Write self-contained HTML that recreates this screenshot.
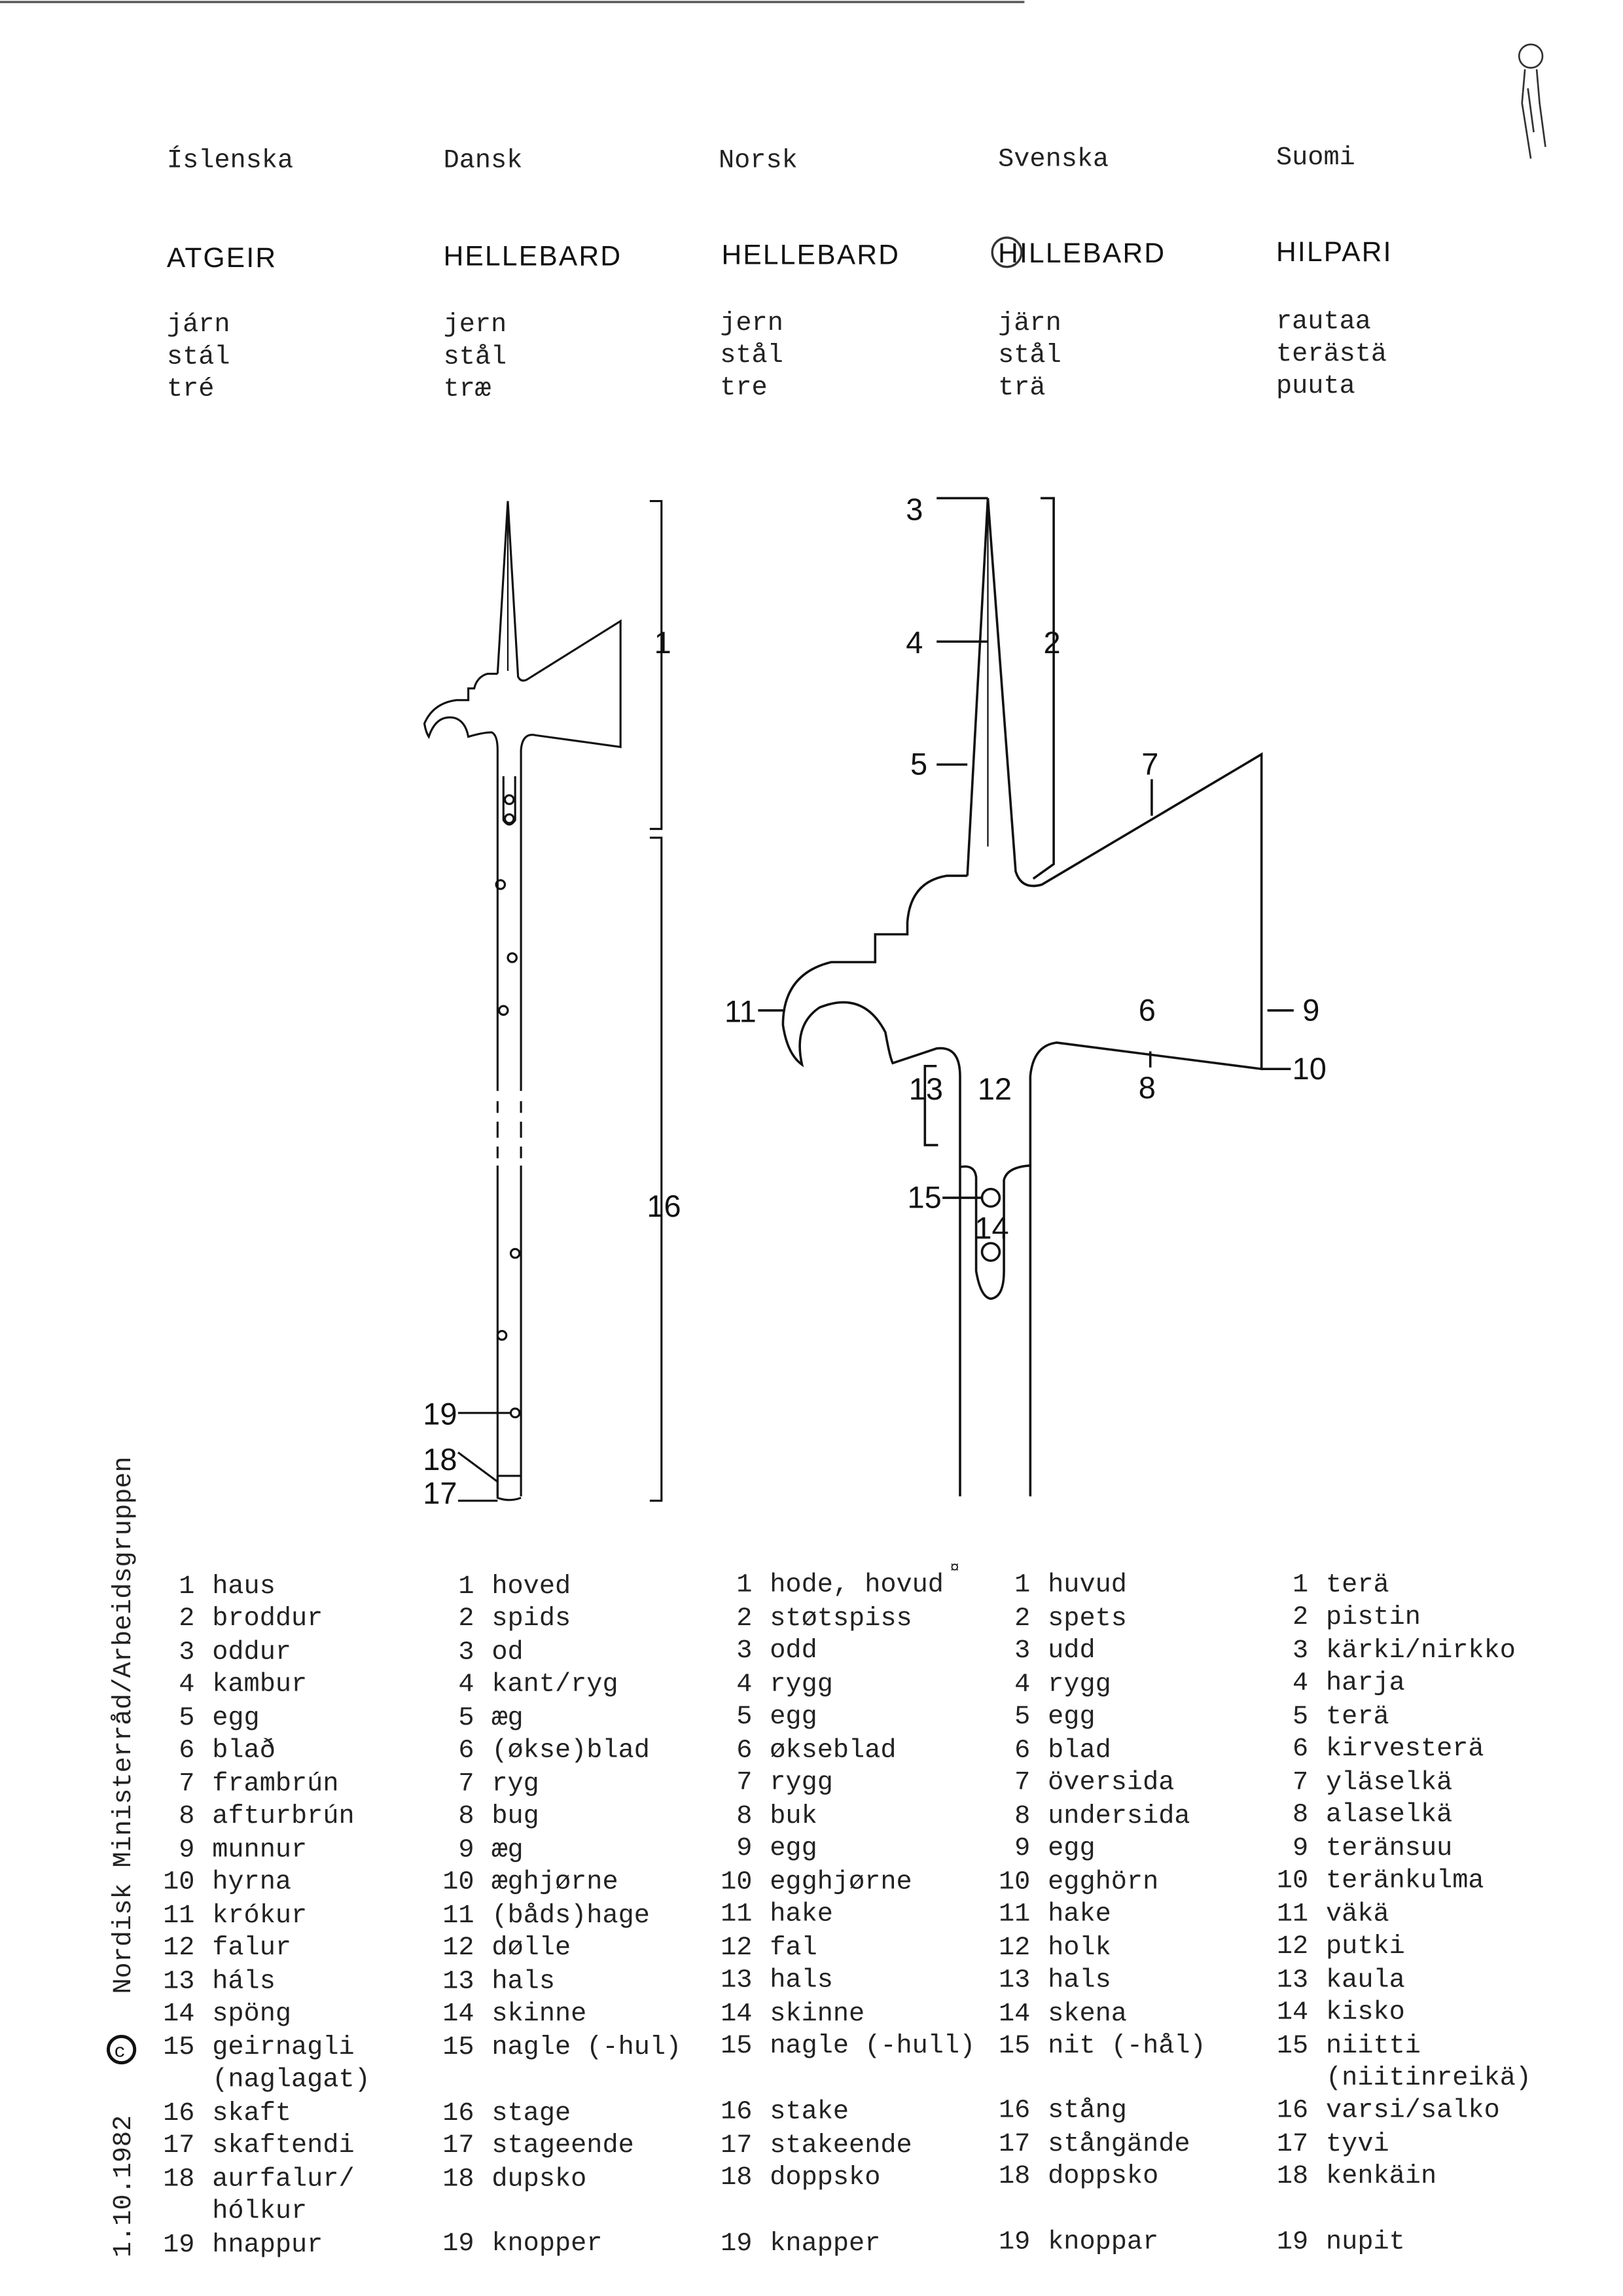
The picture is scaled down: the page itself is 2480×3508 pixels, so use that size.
<!DOCTYPE html>
<html><head><meta charset="utf-8"><style>
html,body{margin:0;padding:0;background:#fff}
svg{display:block}
.m{font-family:"Liberation Mono",monospace;font-size:18px;fill:#222}
.h{font-family:"Liberation Sans",sans-serif;font-size:19px;fill:#111;letter-spacing:1px}
.n{font-family:"Liberation Sans",sans-serif;font-size:21px;fill:#111}
</style></head><body>
<svg width="2480" height="3508" viewBox="0 0 1109 1568" xmlns="http://www.w3.org/2000/svg">
<rect width="1109" height="1568" fill="#fff"/>
<line x1="0" y1="1" x2="700" y2="1" stroke="#555" stroke-width="1.5"/>
<!-- figure -->
<g fill="none" stroke="#333" stroke-width="1.2">
<circle cx="1046" cy="38" r="8"/><path d="M1042 47 L1040 70 L1046 108 M1050 47 L1052 70 L1056 100 M1044 60 L1048 90"/>
</g>
<!-- headers -->
<g class="m">
<text x="114" y="114">Íslenska</text><text x="303" y="114">Dansk</text><text x="491" y="114">Norsk</text><text x="682" y="113">Svenska</text><text x="872" y="112">Suomi</text>
<text x="114" y="226">járn</text><text x="114" y="248">stál</text><text x="114" y="270">tré</text>
<text x="303" y="226">jern</text><text x="303" y="248">stål</text><text x="303" y="270">træ</text>
<text x="492" y="225">jern</text><text x="492" y="247">stål</text><text x="492" y="269">tre</text>
<text x="682" y="225">järn</text><text x="682" y="247">stål</text><text x="682" y="269">trä</text>
<text x="872" y="224">rautaa</text><text x="872" y="246">terästä</text><text x="872" y="268">puuta</text>
</g>
<g class="h">
<text x="114" y="182">ATGEIR</text><text x="303" y="181">HELLEBARD</text><text x="493" y="180">HELLEBARD</text><text x="682" y="179">HILLEBARD</text><text x="872" y="178">HILPARI</text>
</g>
<circle cx="688" cy="172" r="10" fill="none" stroke="#333" stroke-width="1.5"/>
<!-- small axe -->
<g fill="none" stroke="#111" stroke-width="1.4">
<path d="M340 460 L347 342 L354 462 Q356 466 360 464 L424 424 L424 510 L366 502 Q357 500 356 512 L356 1022"/>
<line x1="347" y1="352" x2="347" y2="458" stroke-width="1"/>
<path d="M340 460 L333 460 Q326 462 324 470 L320 470 L320 478 L312 478 Q296 480 290 494 Q291 500 293 503 Q298 488 310 490 Q318 492 320 503 Q330 500 336 500 Q340 502 340 512 L340 1022"/>
<path d="M344 530 L344 560 Q348 566 352 560 L352 530"/>
<circle cx="348" cy="546" r="3"/><circle cx="348" cy="559" r="3"/>
<circle cx="342" cy="604" r="3"/><circle cx="350" cy="654" r="3"/><circle cx="344" cy="690" r="3"/><circle cx="352" cy="856" r="3"/><circle cx="343" cy="912" r="3"/><circle cx="352" cy="965" r="3"/>
<path d="M340 1008 L356 1008 M340 1008 L340 1023 Q348 1026 356 1023"/>
<path d="M444 342 L452 342 L452 566 L444 566 M444 572 L452 572 L452 1025 L444 1025"/>
<path d="M313 965 L349 965 M313 992 L340 1012 M313 1025 L340 1025"/>
</g>
<rect x="336" y="745" width="24" height="7" fill="#fff"/><rect x="336" y="760" width="24" height="6" fill="#fff"/><rect x="336" y="777" width="24" height="6" fill="#fff"/><rect x="336" y="791" width="24" height="5" fill="#fff"/>
<!-- large axe -->
<g fill="none" stroke="#111" stroke-width="1.6">
<path d="M661 598 L675 340 L694 595 Q698 608 712 604 L862 515 L862 730 L722 712 Q706 714 704 735 L704 1022"/>
<line x1="675" y1="350" x2="675" y2="578" stroke-width="1"/>
<path d="M661 598 L647 598 Q622 602 620 630 L620 638 L598 638 L598 657 L568 657 Q535 665 535 700 Q538 720 548 727 Q542 700 560 688 Q590 676 605 705 Q608 722 610 726 L640 716 Q656 714 656 735 L656 1022"/>
<path d="M656 797 Q666 795 667 804 L667 868 Q670 886 677 887 Q686 886 686 868 L686 806 Q688 797 704 796"/>
<circle cx="677" cy="818" r="6"/><circle cx="677" cy="855" r="6"/>
<path d="M640 340 L675 340 M640 438 L675 438 M640 522 L661 522 M711 340 L720 340 L720 590 L706 600 M787 532 L787 557 M866 690 L884 690 M862 730 L882 730 M786 729 L786 718 M518 690 L536 690 M640 728 L632 728 L632 782 L641 782 M644 818 L671 818"/>
</g>
<g class="n">
<text x="619" y="355">3</text><text x="619" y="446">4</text><text x="622" y="529">5</text><text x="713" y="446">2</text><text x="780" y="529">7</text><text x="778" y="697">6</text><text x="890" y="697">9</text><text x="883" y="737">10</text><text x="778" y="750">8</text><text x="495" y="698">11</text><text x="621" y="751">13</text><text x="668" y="751">12</text><text x="620" y="825">15</text><text x="666" y="846">14</text>
<text x="447" y="446" >1</text><text x="442" y="831">16</text><text x="289" y="973">19</text><text x="289" y="1004">18</text><text x="289" y="1027">17</text>
</g>
<!-- legend -->
<g class="m" text-anchor="end">
<text x="133" y="1088">1</text><text x="133" y="1110">2</text><text x="133" y="1133">3</text><text x="133" y="1155">4</text><text x="133" y="1178">5</text><text x="133" y="1200">6</text><text x="133" y="1223">7</text><text x="133" y="1245">8</text><text x="133" y="1268">9</text><text x="133" y="1290">10</text><text x="133" y="1313">11</text><text x="133" y="1335">12</text><text x="133" y="1358">13</text><text x="133" y="1380">14</text><text x="133" y="1403">15</text><text x="133" y="1448">16</text><text x="133" y="1470">17</text><text x="133" y="1493">18</text><text x="133" y="1538">19</text>
<text x="324" y="1088">1</text><text x="324" y="1110">2</text><text x="324" y="1133">3</text><text x="324" y="1155">4</text><text x="324" y="1178">5</text><text x="324" y="1200">6</text><text x="324" y="1223">7</text><text x="324" y="1245">8</text><text x="324" y="1268">9</text><text x="324" y="1290">10</text><text x="324" y="1313">11</text><text x="324" y="1335">12</text><text x="324" y="1358">13</text><text x="324" y="1380">14</text><text x="324" y="1403">15</text><text x="324" y="1448">16</text><text x="324" y="1470">17</text><text x="324" y="1493">18</text><text x="324" y="1537">19</text>
<text x="514" y="1087">1</text><text x="514" y="1110">2</text><text x="514" y="1132">3</text><text x="514" y="1155">4</text><text x="514" y="1177">5</text><text x="514" y="1200">6</text><text x="514" y="1222">7</text><text x="514" y="1245">8</text><text x="514" y="1267">9</text><text x="514" y="1290">10</text><text x="514" y="1312">11</text><text x="514" y="1335">12</text><text x="514" y="1357">13</text><text x="514" y="1380">14</text><text x="514" y="1402">15</text><text x="514" y="1447">16</text><text x="514" y="1470">17</text><text x="514" y="1492">18</text><text x="514" y="1537">19</text>
<text x="704" y="1087">1</text><text x="704" y="1110">2</text><text x="704" y="1132">3</text><text x="704" y="1155">4</text><text x="704" y="1177">5</text><text x="704" y="1200">6</text><text x="704" y="1222">7</text><text x="704" y="1245">8</text><text x="704" y="1267">9</text><text x="704" y="1290">10</text><text x="704" y="1312">11</text><text x="704" y="1335">12</text><text x="704" y="1357">13</text><text x="704" y="1380">14</text><text x="704" y="1402">15</text><text x="704" y="1446">16</text><text x="704" y="1469">17</text><text x="704" y="1491">18</text><text x="704" y="1536">19</text>
<text x="894" y="1087">1</text><text x="894" y="1109">2</text><text x="894" y="1132">3</text><text x="894" y="1154">4</text><text x="894" y="1177">5</text><text x="894" y="1199">6</text><text x="894" y="1222">7</text><text x="894" y="1244">8</text><text x="894" y="1267">9</text><text x="894" y="1289">10</text><text x="894" y="1312">11</text><text x="894" y="1334">12</text><text x="894" y="1357">13</text><text x="894" y="1379">14</text><text x="894" y="1402">15</text><text x="894" y="1446">16</text><text x="894" y="1469">17</text><text x="894" y="1491">18</text><text x="894" y="1536">19</text>
</g>
<g class="m">
<text x="145" y="1088">haus</text><text x="145" y="1110">broddur</text><text x="145" y="1133">oddur</text><text x="145" y="1155">kambur</text><text x="145" y="1178">egg</text><text x="145" y="1200">blað</text><text x="145" y="1223">frambrún</text><text x="145" y="1245">afturbrún</text><text x="145" y="1268">munnur</text><text x="145" y="1290">hyrna</text><text x="145" y="1313">krókur</text><text x="145" y="1335">falur</text><text x="145" y="1358">háls</text><text x="145" y="1380">spöng</text><text x="145" y="1403">geirnagli</text><text x="145" y="1425">(naglagat)</text><text x="145" y="1448">skaft</text><text x="145" y="1470">skaftendi</text><text x="145" y="1493">aurfalur/</text><text x="145" y="1515">hólkur</text><text x="145" y="1538">hnappur</text>
<text x="336" y="1088">hoved</text><text x="336" y="1110">spids</text><text x="336" y="1133">od</text><text x="336" y="1155">kant/ryg</text><text x="336" y="1178">æg</text><text x="336" y="1200">(økse)blad</text><text x="336" y="1223">ryg</text><text x="336" y="1245">bug</text><text x="336" y="1268">æg</text><text x="336" y="1290">æghjørne</text><text x="336" y="1313">(båds)hage</text><text x="336" y="1335">dølle</text><text x="336" y="1358">hals</text><text x="336" y="1380">skinne</text><text x="336" y="1403">nagle (-hul)</text><text x="336" y="1448">stage</text><text x="336" y="1470">stageende</text><text x="336" y="1493">dupsko</text><text x="336" y="1537">knopper</text>
<text x="526" y="1087">hode, hovud</text><text x="526" y="1110">støtspiss</text><text x="526" y="1132">odd</text><text x="526" y="1155">rygg</text><text x="526" y="1177">egg</text><text x="526" y="1200">økseblad</text><text x="526" y="1222">rygg</text><text x="526" y="1245">buk</text><text x="526" y="1267">egg</text><text x="526" y="1290">egghjørne</text><text x="526" y="1312">hake</text><text x="526" y="1335">fal</text><text x="526" y="1357">hals</text><text x="526" y="1380">skinne</text><text x="526" y="1402">nagle (-hull)</text><text x="526" y="1447">stake</text><text x="526" y="1470">stakeende</text><text x="526" y="1492">doppsko</text><text x="526" y="1537">knapper</text>
<text x="716" y="1087">huvud</text><text x="716" y="1110">spets</text><text x="716" y="1132">udd</text><text x="716" y="1155">rygg</text><text x="716" y="1177">egg</text><text x="716" y="1200">blad</text><text x="716" y="1222">översida</text><text x="716" y="1245">undersida</text><text x="716" y="1267">egg</text><text x="716" y="1290">egghörn</text><text x="716" y="1312">hake</text><text x="716" y="1335">holk</text><text x="716" y="1357">hals</text><text x="716" y="1380">skena</text><text x="716" y="1402">nit (-hål)</text><text x="716" y="1446">stång</text><text x="716" y="1469">stångände</text><text x="716" y="1491">doppsko</text><text x="716" y="1536">knoppar</text>
<text x="906" y="1087">terä</text><text x="906" y="1109">pistin</text><text x="906" y="1132">kärki/nirkko</text><text x="906" y="1154">harja</text><text x="906" y="1177">terä</text><text x="906" y="1199">kirvesterä</text><text x="906" y="1222">yläselkä</text><text x="906" y="1244">alaselkä</text><text x="906" y="1267">teränsuu</text><text x="906" y="1289">teränkulma</text><text x="906" y="1312">väkä</text><text x="906" y="1334">putki</text><text x="906" y="1357">kaula</text><text x="906" y="1379">kisko</text><text x="906" y="1402">niitti</text><text x="906" y="1424">(niitinreikä)</text><text x="906" y="1446">varsi/salko</text><text x="906" y="1469">tyvi</text><text x="906" y="1491">kenkäin</text><text x="906" y="1536">nupit</text>
<text x="649" y="1074" font-size="11">¤</text>
</g>
<g class="m">
<text transform="translate(89 1362) rotate(-90)">Nordisk Ministerråd/Arbeidsgruppen</text>
<text transform="translate(89 1542) rotate(-90)">1.10.1982</text>
</g>
<circle cx="83" cy="1400" r="9" fill="none" stroke="#111" stroke-width="2.2"/>
<text x="78" y="1405" font-family="Liberation Mono,monospace" font-size="13" fill="#111">c</text>
</svg>
</body></html>
